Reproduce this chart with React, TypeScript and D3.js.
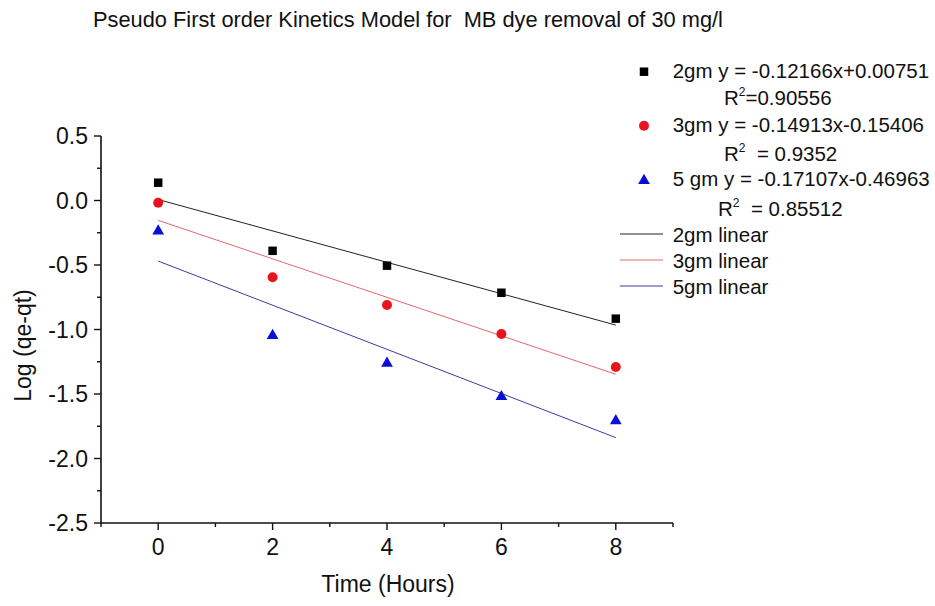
import React from "react";
import * as d3 from "d3";

const times = [0, 2, 4, 6, 8];
const series2gm = [0.138, -0.39, -0.505, -0.715, -0.916];
const series3gm = [-0.017, -0.595, -0.81, -1.035, -1.29];
const series5gm = [-0.23, -1.04, -1.255, -1.513, -1.7];
const fitSlopes = [-0.12166, -0.14913, -0.17107];
const fitIntercepts = [0.00751, -0.15406, -0.46963];
const xMajorTicks = [0, 2, 4, 6, 8];
const xMinorTicks = [-1, 1, 3, 5, 7, 9];
const yMajorTicks = [0.5, 0, -0.5, -1, -1.5, -2, -2.5];
const yMinorTicks = [0.25, -0.25, -0.75, -1.25, -1.75, -2.25];
const legendEq = [
  "2gm y = -0.12166x+0.00751",
  "3gm y = -0.14913x-0.15406",
  "5 gm y = -0.17107x-0.46963",
];
const legendR2 = ["=0.90556", "\u00a0 = 0.9352", "\u00a0 = 0.85512"];
const legendLines = ["2gm linear", "3gm linear", "5gm linear"];

const FONT = "'Liberation Sans', Arial, sans-serif";

export default function App() {
  const W = 935;
  const H = 606;
  const x = d3.scaleLinear().domain([-1, 9]).range([101, 673]);
  const y = d3.scaleLinear().domain([-2.5, 0.5]).range([523, 136]);
  const all = [series2gm, series3gm, series5gm];
  const markerColors = ["#000000", "#e8141b", "#0a0fd6"];
  const lineColors = ["#222222", "#e06a6a", "#3c3c9c"];
  const symbols = [
    d3.symbol().type(d3.symbolSquare).size(72)(),
    d3.symbol().type(d3.symbolCircle).size(78)(),
    d3.symbol().type(d3.symbolTriangle).size(60)(),
  ];

  return (
    <svg
      width={W}
      height={H}
      style={{ position: "absolute", left: 0, top: 0, background: "#fff" }}
      fontFamily={FONT}
    >
      <rect width={W} height={H} fill="#fff" />
      <text x={93} y={27} fontSize={21.8} fill="#111">
        {"Pseudo First order Kinetics Model for\u00a0 MB dye removal of 30 mg/l"}
      </text>

      {/* axes */}
      <line x1={x(-1)} x2={x(9)} y1={y(-2.5)} y2={y(-2.5)} stroke="#111" strokeWidth={1.6} />
      <line x1={x(-1)} x2={x(-1)} y1={y(-2.5)} y2={y(0.5)} stroke="#111" strokeWidth={1.6} />
      {xMajorTicks.map((t) => (
        <g key={"xm" + t}>
          <line x1={x(t)} x2={x(t)} y1={y(-2.5)} y2={y(-2.5) + 7} stroke="#111" strokeWidth={1.4} />
          <text x={x(t)} y={555} fontSize={23} textAnchor="middle" fill="#111">
            {t}
          </text>
        </g>
      ))}
      {xMinorTicks.map((t) => (
        <line key={"xn" + t} x1={x(t)} x2={x(t)} y1={y(-2.5)} y2={y(-2.5) + 4} stroke="#111" strokeWidth={1.4} />
      ))}
      {yMajorTicks.map((t) => (
        <g key={"ym" + t}>
          <line x1={x(-1) - 7} x2={x(-1)} y1={y(t)} y2={y(t)} stroke="#111" strokeWidth={1.4} />
          <text x={88} y={y(t) + 8} fontSize={23} textAnchor="end" fill="#111">
            {d3.format(".1f")(t).replace("\u2212", "-")}
          </text>
        </g>
      ))}
      {yMinorTicks.map((t) => (
        <line key={"yn" + t} x1={x(-1) - 4} x2={x(-1)} y1={y(t)} y2={y(t)} stroke="#111" strokeWidth={1.4} />
      ))}
      <text x={388} y={592} fontSize={23} textAnchor="middle" fill="#111">
        Time (Hours)
      </text>
      <text
        transform={`translate(31, 345.5) rotate(-90)`}
        fontSize={23}
        textAnchor="middle"
        fill="#111"
      >
        Log (qe-qt)
      </text>

      {/* fit lines */}
      {fitSlopes.map((m, i) => (
        <line
          key={"fit" + i}
          x1={x(0)}
          x2={x(8)}
          y1={y(fitIntercepts[i])}
          y2={y(m * 8 + fitIntercepts[i])}
          stroke={lineColors[i]}
          strokeWidth={1}
        />
      ))}

      {/* markers */}
      {all.map((s, i) =>
        s.map((v, j) => (
          <path
            key={"m" + i + "-" + j}
            d={symbols[i] as string}
            transform={`translate(${x(times[j])},${y(v) + (i === 2 ? 1 : 0)})`}
            fill={markerColors[i]}
          />
        ))
      )}

      {/* legend */}
      {legendEq.map((t, i) => {
        const base = [77.7, 131.7, 185.5][i];
        const r2base = [105, 161, 215.7][i];
        const r2x = [724, 724, 718][i];
        return (
          <g key={"lg" + i}>
            <path
              d={symbols[i] as string}
              transform={`translate(${644},${base - 6 + (i === 2 ? 1 : 0)})`}
              fill={markerColors[i]}
            />
            <text x={672.7} y={base} fontSize={20.5} fill="#111">
              {t}
            </text>
            <text x={r2x} y={r2base} fontSize={20.5} fill="#111">
              R
              <tspan fontSize={12} dy={-9}>
                2
              </tspan>
              <tspan dy={9}>{legendR2[i]}</tspan>
            </text>
          </g>
        );
      })}
      {legendLines.map((t, i) => {
        const ly = [234, 260, 286][i];
        return (
          <g key={"ll" + i}>
            <line x1={620} x2={663} y1={ly} y2={ly} stroke={lineColors[i]} strokeWidth={1} />
            <text x={672.7} y={ly + 8} fontSize={20.5} fill="#111">
              {t}
            </text>
          </g>
        );
      })}
    </svg>
  );
}
